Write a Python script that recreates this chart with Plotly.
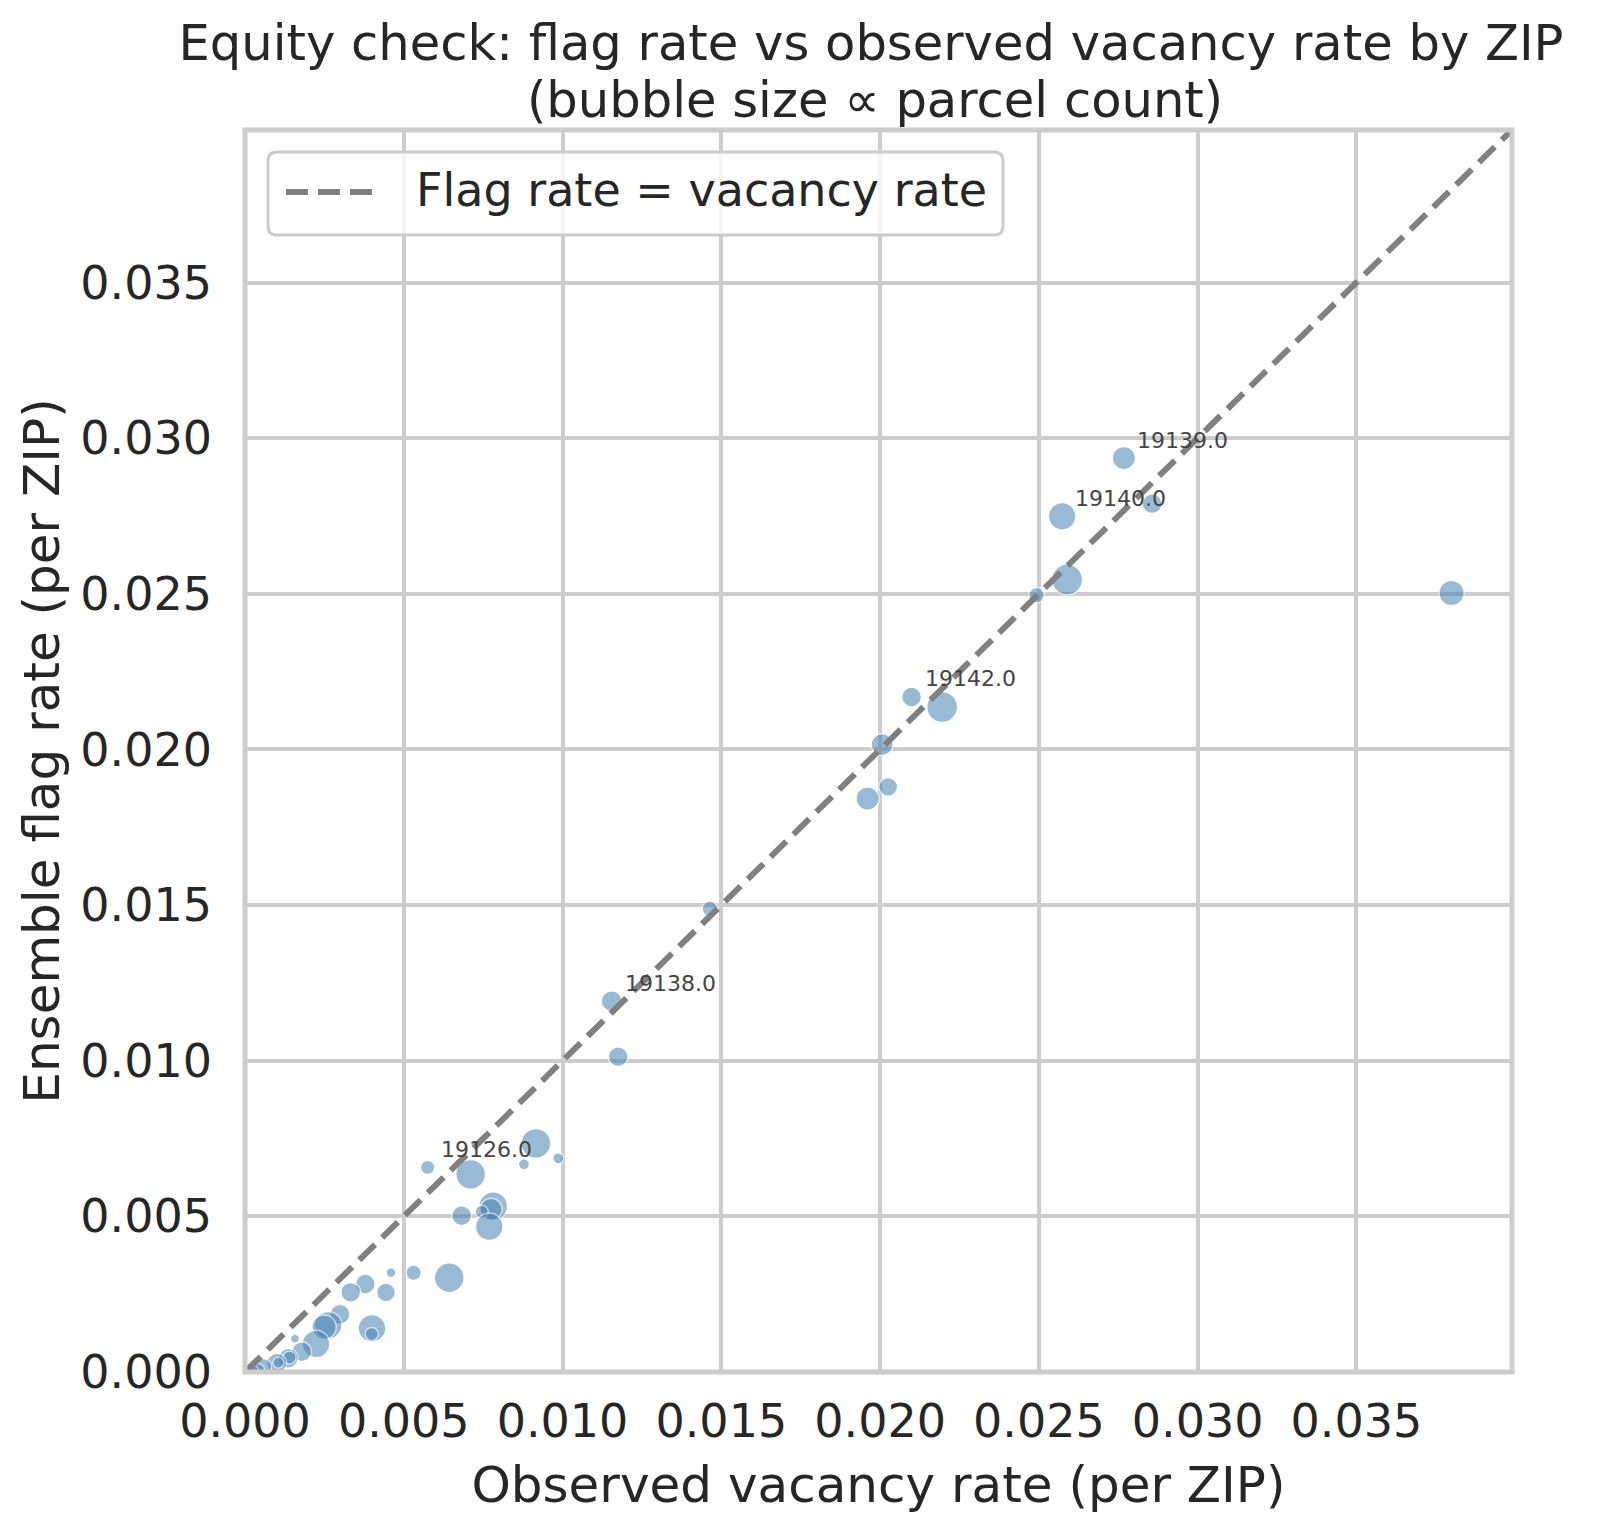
import numpy as np
import plotly.graph_objects as go

# ---------------- data ----------------
vacancy_rate = [0.037995, 0.027677, 0.025734, 0.028568, 0.025891, 0.024928,
                0.020991, 0.021955, 0.020066, 0.020255, 0.019606, 0.014638,
                0.011546, 0.011754, 0.009162, 0.009865, 0.008785, 0.005753,
                0.007106, 0.007818, 0.007750, 0.007453, 0.006823, 0.007692,
                0.004597, 0.005312, 0.006433, 0.003788, 0.003328, 0.004440,
                0.002991, 0.002620, 0.002490, 0.003999, 0.003990, 0.001574,
                0.002235, 0.001785, 0.001363, 0.001400, 0.000998, 0.001050,
                0.000576, 0.000409, 0.000250]
flag_rate = [0.025026, 0.029361, 0.027489, 0.027896, 0.025456, 0.024952,
             0.021686, 0.021365, 0.020157, 0.018796, 0.018423, 0.014884,
             0.011914, 0.010125, 0.007344, 0.006863, 0.006670, 0.006574,
             0.006349, 0.005331, 0.005230, 0.005148, 0.005019, 0.004666,
             0.003189, 0.003189, 0.003028, 0.002826, 0.002559, 0.002559,
             0.001853, 0.001500, 0.001440, 0.001403, 0.001220, 0.001069,
             0.000899, 0.000652, 0.000440, 0.000460, 0.000279, 0.000300,
             0.000170, 0.000064, 0.000040]
parcel_count = [27000, 22500, 31900, 16500, 40000, 10000,
                16500, 40000, 20400, 14700, 22500, 10000,
                18400, 16500, 37200, 5100, 5100, 8600,
                37200, 34500, 20400, 7300, 16500, 31900,
                4100, 10000, 37200, 16500, 16500, 14700,
                16500, 31900, 24700, 31900, 7300, 3300,
                31900, 16500, 16500, 7300, 16500, 5100,
                11500, 7300, 5100]
zip_code = [None, 19139, 19140, None, None, None,
            19142, None, None, None, None, None,
            19138, None, None, None, None, 19126] + [None] * 27

x_ticks = [0.000, 0.005, 0.010, 0.015, 0.020, 0.025, 0.030, 0.035]
y_ticks = [0.000, 0.005, 0.010, 0.015, 0.020, 0.025, 0.030, 0.035]
axis_max = 0.0399
line_name = "Flag rate = vacancy rate"
title_lines = ["Equity check: flag rate vs observed vacancy rate by ZIP",
               "(bubble size \u221d parcel count)"]

# ---------------- layout constants ----------------
W, H = 1597, 1531
ML, MR, MT, MB = 245, 85, 130, 159
PW, PH = W - ML - MR, H - MT - MB
FONT = "DejaVu Sans"
TXT = "#262626"
GRID = "#cccccc"


def px_x(px):
    return (px - ML) / PW


def px_y(py):
    return (H - MB - py) / PH


diam = 0.155 * np.sqrt(np.array(parcel_count, dtype=float))

fig = go.Figure()
fig.add_trace(go.Scatter(
    x=vacancy_rate, y=flag_rate, mode="markers",
    marker=dict(size=diam, sizemode="diameter", color="steelblue", opacity=0.55,
                line=dict(color="white", width=1.5)),
    showlegend=False, hoverinfo="skip", cliponaxis=True))
fig.add_trace(go.Scatter(
    x=[0, axis_max], y=[0, axis_max], mode="lines", name=line_name,
    line=dict(color="#808080", width=6, dash="22px,10px"),
    showlegend=False))

annotations = []
for xv, yv, z in zip(vacancy_rate, flag_rate, zip_code):
    if z is None:
        continue
    annotations.append(dict(
        x=xv, y=yv, xref="x", yref="y", text=f"{float(z):.1f}", showarrow=False,
        xanchor="left", yanchor="middle", xshift=11, yshift=18,
        font=dict(family=FONT, size=22, color="#444444")))

# legend (drawn manually to match the long dashed sample)
lx0, lx1, ly0, ly1 = 268, 1003, 152, 235
r = 9


def rounded_rect(x0, y0, x1, y1, rad):
    X = lambda v: px_x(v)
    Y = lambda v: px_y(v)
    return (f"M {X(x0+rad)},{Y(y0)} L {X(x1-rad)},{Y(y0)} Q {X(x1)},{Y(y0)} {X(x1)},{Y(y0+rad)} "
            f"L {X(x1)},{Y(y1-rad)} Q {X(x1)},{Y(y1)} {X(x1-rad)},{Y(y1)} "
            f"L {X(x0+rad)},{Y(y1)} Q {X(x0)},{Y(y1)} {X(x0)},{Y(y1-rad)} "
            f"L {X(x0)},{Y(y0+rad)} Q {X(x0)},{Y(y0)} {X(x0+rad)},{Y(y0)} Z")


shapes = [
    # axes frame (spines centred on the plot edge)
    dict(type="rect", xref="paper", yref="paper", x0=0, x1=1, y0=0, y1=1,
         line=dict(color=GRID, width=5), fillcolor="rgba(0,0,0,0)", layer="above"),
    dict(type="path", xref="paper", yref="paper", path=rounded_rect(lx0, ly0, lx1, ly1, r),
         fillcolor="rgba(255,255,255,0.8)", line=dict(color=GRID, width=3), layer="above"),
    dict(type="line", xref="paper", yref="paper", x0=px_x(286), x1=px_x(376),
         y0=px_y(192), y1=px_y(192), line=dict(color="#808080", width=6, dash="22px,10px"),
         layer="above"),
]
annotations.append(dict(
    x=px_x(414), y=px_y(190), xref="paper", yref="paper", text=line_name,
    showarrow=False, xanchor="left", yanchor="middle",
    font=dict(family=FONT, size=46, color=TXT)))

# second title line
annotations.append(dict(
    x=px_x(875), y=px_y(100), xref="paper", yref="paper", text=title_lines[1],
    showarrow=False, xanchor="center", yanchor="middle",
    font=dict(family=FONT, size=49.6, color=TXT)))

axis_common = dict(
    range=[0, axis_max], showgrid=True, gridcolor=GRID, gridwidth=4,
    zeroline=False, showline=False,
    ticks="", tickformat=".3f", tickfont=dict(family=FONT, size=46, color=TXT),
    automargin=False,
)

fig.update_layout(
    width=W, height=H, autosize=False,
    margin=dict(l=ML, r=MR, t=MT, b=MB, pad=0, autoexpand=False),
    paper_bgcolor="white", plot_bgcolor="white",
    font=dict(family=FONT, color=TXT),
    title=dict(text=title_lines[0], x=871 / W, xanchor="center",
               xref="container", y=1 - 43 / H, yref="container", yanchor="middle",
               font=dict(family=FONT, size=49.6, color=TXT)),
    xaxis=dict(**axis_common, tickvals=x_ticks, ticklabelstandoff=18,
               title=dict(text="Observed vacancy rate (per ZIP)", standoff=19,
                          font=dict(family=FONT, size=50, color=TXT))),
    yaxis=dict(**axis_common, tickvals=y_ticks, ticklabelstandoff=32,
               title=dict(text="Ensemble flag rate (per ZIP)", standoff=4,
                          font=dict(family=FONT, size=50, color=TXT))),
    shapes=shapes, annotations=annotations,
)

fig.write_html("out.html")
